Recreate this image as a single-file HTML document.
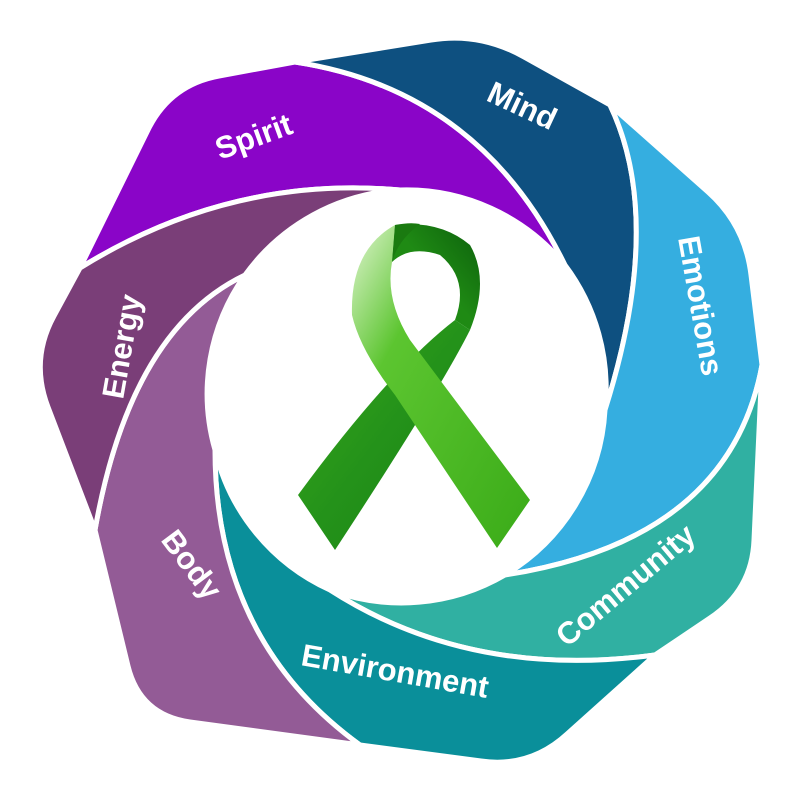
<!DOCTYPE html>
<html><head><meta charset="utf-8"><style>
html,body{margin:0;padding:0;background:#fff}
svg{display:block}
text{font-family:"Liberation Sans",sans-serif;font-weight:bold;fill:#fff;font-size:31px}
</style></head><body>
<svg width="800" height="800" viewBox="0 0 800 800" xmlns="http://www.w3.org/2000/svg">
<defs>
<linearGradient id="g1" x1="0" y1="0" x2="1" y2="1">
<stop offset="0" stop-color="#e0f5d0"/><stop offset="0.3" stop-color="#5cc530"/><stop offset="1" stop-color="#3aab18"/>
</linearGradient>
<linearGradient id="g2" x1="1" y1="0" x2="0" y2="1">
<stop offset="0" stop-color="#0c600c"/><stop offset="0.5" stop-color="#1f8a14"/><stop offset="1" stop-color="#1d8a10"/>
</linearGradient>
<linearGradient id="g3" x1="0" y1="0" x2="1" y2="1">
<stop offset="0" stop-color="#3aa81a"/><stop offset="0.5" stop-color="#24921a"/><stop offset="1" stop-color="#1a8412"/>
</linearGradient>
</defs>
<g stroke="#fff" stroke-width="5" stroke-linejoin="round">
<path fill="#8a05c8" d="M80,268 L148,130 Q170,85 219,76 L295,62 Q480,90 565,265 A205,205 0 0 0 400,190 Q230,175 80,268 Z"/>
<path fill="#0e5080" d="M295,62 L431,40 Q480,32 524,57 L610,105 Q665,220 605,410 A205,205 0 0 0 565,265 Q480,90 295,62 Z"/>
<path fill="#35aee0" d="M610,105 L708,192 Q745,225 751,275 L762,365 Q730,540 505,575 A205,205 0 0 0 605,410 Q665,220 610,105 Z"/>
<path fill="#30b0a2" d="M762,365 L754,540 Q752,590 710,618 L655,655 Q470,680 330,590 A205,205 0 0 0 505,575 Q730,540 762,365 Z"/>
<path fill="#0a8f9a" d="M655,655 L567,734 Q530,768 481,761 L360,745 Q215,640 215,450 A205,205 0 0 0 330,590 Q470,680 655,655 Z"/>
<path fill="#935b96" d="M360,745 L190,722 Q140,715 128,666 L95,530 Q130,330 245,275 A205,205 0 0 0 215,450 Q215,640 360,745 Z"/>
<path fill="#7a3e78" d="M95,530 L48,407 Q30,360 54,316 L80,268 Q230,175 400,190 A205,205 0 0 0 245,275 Q130,330 95,530 Z"/>
</g>
<path fill="url(#g2)" d="M395,225 Q440,220 470,245 Q490,280 470,330 L455,320 Q470,280 440,255 Q410,245 392,262 Z"/>
<path fill="url(#g3)" d="M470,330 Q440,390 335,550 L298,495 Q390,370 455,320 Z"/>
<path fill="url(#g1)" d="M395,225 Q350,250 352,315 Q360,350 395,395 L497,548 L530,500 Q440,380 410,340 Q385,300 392,262 Z"/>
<path fill="#1a7a10" d="M395,225 Q410,222 420,224 Q398,240 392,262 Z"/>
<text transform="translate(220,160) rotate(-20)">Spirit</text>
<text transform="translate(485,100) rotate(25)">Mind</text>
<text transform="translate(678,238) rotate(80)">Emotions</text>
<text transform="translate(567,648) rotate(-40)">Community</text>
<text transform="translate(300,665) rotate(10)">Environment</text>
<text transform="translate(160,540) rotate(53)">Body</text>
<text transform="translate(123,400) rotate(-80)">Energy</text>
</svg>
</body></html>
